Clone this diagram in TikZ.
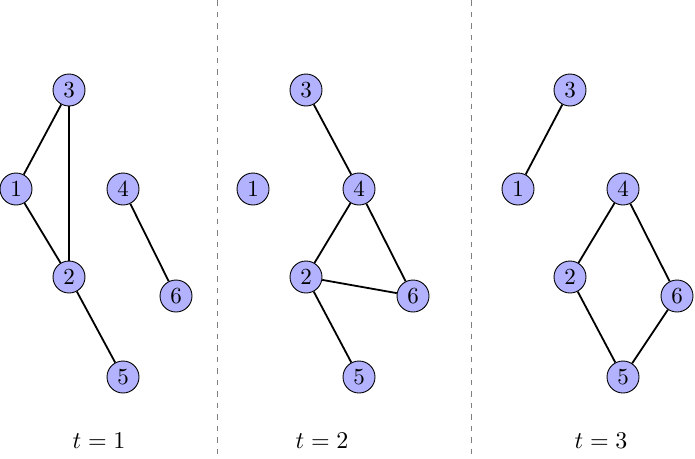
\documentclass[tikz,border=0pt]{standalone}
\usepackage{graphicx}
\begin{document}
\begin{tikzpicture}[x=1pt,y=-1pt,
  vert/.style={circle,draw=black,line width=0.9pt,fill=blue!30,minimum size=32pt,inner sep=0pt},
  edge/.style={line width=1.8pt},
  sep/.style={gray,line width=0.9pt,dash pattern=on 5.5pt off 6pt},
  lab/.style={inner sep=0pt}]
\newcommand{\vl}[1]{\scalebox{2.3}{#1}}
\newcommand{\tl}[1]{\scalebox{2.4}{$t=#1$}}
\useasboundingbox (0,0) rectangle (695,458);
\coordinate (s1t) at (217,0); \coordinate (s1b) at (217,458);
\coordinate (s2t) at (471,0); \coordinate (s2b) at (471,458);
\draw[sep] (s1t) -- (s1b);
\draw[sep] (s2t) -- (s2b);
% panel 1
\node[vert] (a3) at (69,90) {\vl{3}};
\node[vert] (a1) at (16,189) {\vl{1}};
\node[vert] (a4) at (123,189) {\vl{4}};
\node[vert] (a2) at (69,277) {\vl{2}};
\node[vert] (a6) at (176,296) {\vl{6}};
\node[vert] (a5) at (123,377) {\vl{5}};
\draw[edge] (a1) -- (a3); \draw[edge] (a3) -- (a2); \draw[edge] (a1) -- (a2);
\draw[edge] (a4) -- (a6); \draw[edge] (a2) -- (a5);
% panel 2
\node[vert] (b3) at (306,90) {\vl{3}};
\node[vert] (b1) at (253,189) {\vl{1}};
\node[vert] (b4) at (359,189) {\vl{4}};
\node[vert] (b2) at (306,277) {\vl{2}};
\node[vert] (b6) at (413,296) {\vl{6}};
\node[vert] (b5) at (359,377) {\vl{5}};
\draw[edge] (b3) -- (b4); \draw[edge] (b4) -- (b2); \draw[edge] (b4) -- (b6);
\draw[edge] (b2) -- (b6); \draw[edge] (b2) -- (b5);
% panel 3
\node[vert] (c3) at (570,90) {\vl{3}};
\node[vert] (c1) at (518,189) {\vl{1}};
\node[vert] (c4) at (623,189) {\vl{4}};
\node[vert] (c2) at (570,277) {\vl{2}};
\node[vert] (c6) at (677,296) {\vl{6}};
\node[vert] (c5) at (623,377) {\vl{5}};
\draw[edge] (c1) -- (c3); \draw[edge] (c4) -- (c2); \draw[edge] (c4) -- (c6);
\draw[edge] (c2) -- (c5); \draw[edge] (c5) -- (c6);
% labels
\node[lab] (l1) at (99,441) {\tl{1}};
\node[lab] (l2) at (322,441) {\tl{2}};
\node[lab] (l3) at (601,441) {\tl{3}};
\end{tikzpicture}
\end{document}
